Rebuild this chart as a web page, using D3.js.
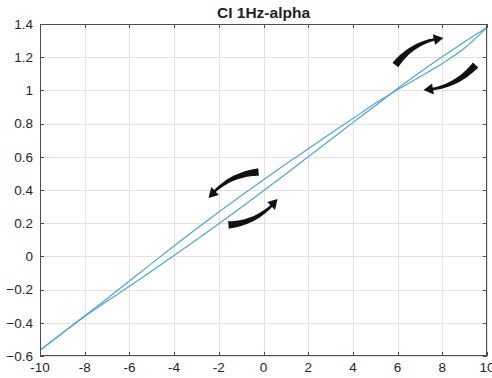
<!DOCTYPE html>
<html>
<head>
<meta charset="utf-8">
<script src="https://cdn.jsdelivr.net/npm/d3@7"></script>
<style>
  body { margin: 0; background: #fff; }
  text { font-family: "Liberation Sans", Arial, sans-serif; }
</style>
</head>
<body>
<div id="chart"></div>
<script>
// input values (x) and the two branches of the loop
var xs      = [-10, -9, -8, -7, -6, -5, -4, -3, -2, -1, 0, 1, 2, 3, 4, 5, 6, 7, 8, 9, 10];
var rising  = [-0.565, -0.463, -0.362, -0.27, -0.18, -0.088, 0.005, 0.1, 0.197, 0.295, 0.395, 0.497, 0.6, 0.703, 0.806, 0.908, 1.012, 1.11, 1.203, 1.293, 1.38];
var falling = [-0.565, -0.462, -0.358, -0.255, -0.148, -0.042, 0.063, 0.167, 0.268, 0.366, 0.462, 0.556, 0.648, 0.74, 0.83, 0.922, 1.004, 1.082, 1.162, 1.255, 1.38];

var xTicks = [-10, -8, -6, -4, -2, 0, 2, 4, 6, 8, 10];
var yTicks = [-0.6, -0.4, -0.2, 0, 0.2, 0.4, 0.6, 0.8, 1, 1.2, 1.4];

// direction arrows (tail -> head, in data units)
var arrowFrom = [[-0.22, 0.508], [-1.57, 0.189], [5.9, 1.153], [9.49, 1.153]];
var arrowTo   = [[-2.46, 0.352], [0.63, 0.346], [8.05, 1.316], [7.16, 1.002]];
var arrowBow  = [12, 12, -12, -12];

var title = "CI 1Hz-alpha";

var width = 492, height = 378;
var margin = { top: 24, right: 5, bottom: 22, left: 40 };

var svg = d3.select("#chart").append("svg")
  .attr("width", width)
  .attr("height", height);

var x = d3.scaleLinear().domain([-10, 10]).range([margin.left, width - margin.right]);
var y = d3.scaleLinear().domain([-0.6, 1.4]).range([height - margin.bottom, margin.top]);

var x0 = x.range()[0], x1 = x.range()[1];
var y0 = y.range()[0], y1 = y.range()[1];

// grid
var grid = svg.append("g").attr("stroke", "#e1e1e1").attr("stroke-width", 1);
grid.selectAll(".vx").data(xTicks).enter().append("line")
  .attr("x1", d => Math.round(x(d)) + 0.5).attr("x2", d => Math.round(x(d)) + 0.5)
  .attr("y1", y1).attr("y2", y0);
grid.selectAll(".hy").data(yTicks).enter().append("line")
  .attr("y1", d => Math.round(y(d)) + 0.5).attr("y2", d => Math.round(y(d)) + 0.5)
  .attr("x1", x0).attr("x2", x1);

// lines
var line = d3.line()
  .x(function(d) { return x(d[0]); })
  .y(function(d) { return y(d[1]); })
  .curve(d3.curveMonotoneX);

[rising, falling].forEach(function(s) {
  svg.append("path")
    .datum(xs.map(function(v, i) { return [v, s[i]]; }))
    .attr("fill", "none")
    .attr("stroke", "#55a3cf")
    .attr("stroke-width", 1.2)
    .attr("d", line);
});

// box + inward ticks
var axc = "#4d4d4d";
svg.append("rect")
  .attr("x", x0 + 0.5).attr("y", y1 + 0.5)
  .attr("width", x1 - x0 - 1).attr("height", y0 - y1 - 1)
  .attr("fill", "none").attr("stroke", axc).attr("stroke-width", 1);

var tk = svg.append("g").attr("stroke", axc).attr("stroke-width", 1);
xTicks.forEach(function(d) {
  var px = Math.round(x(d)) + 0.5;
  tk.append("line").attr("x1", px).attr("x2", px).attr("y1", y0).attr("y2", y0 - 4);
  tk.append("line").attr("x1", px).attr("x2", px).attr("y1", y1).attr("y2", y1 + 4);
});
yTicks.forEach(function(d) {
  var py = Math.round(y(d)) + 0.5;
  tk.append("line").attr("y1", py).attr("y2", py).attr("x1", x0).attr("x2", x0 + 4);
  tk.append("line").attr("y1", py).attr("y2", py).attr("x1", x1).attr("x2", x1 - 4);
});

// tick labels
svg.append("g").selectAll("text").data(xTicks).enter().append("text")
  .attr("x", d => x(d)).attr("y", y0 + 16)
  .attr("text-anchor", "middle")
  .attr("font-size", 13.5).attr("fill", "#262626")
  .text(d => d);

svg.append("g").selectAll("text").data(yTicks).enter().append("text")
  .attr("x", x0 - 7).attr("y", d => y(d)).attr("dy", "0.35em")
  .attr("text-anchor", "end")
  .attr("font-size", 13.5).attr("fill", "#262626")
  .text(d => d3.format("")(+d.toFixed(1)));

// title
svg.append("text")
  .attr("x", x(0)).attr("y", 18)
  .attr("text-anchor", "middle")
  .attr("font-size", 15.5).attr("font-weight", "bold").attr("fill", "#222")
  .text(title);

// curved tapered arrows
function arrowPath(from, to, bow) {
  var T = [x(from[0]), y(from[1])], H = [x(to[0]), y(to[1])];
  var dx = H[0] - T[0], dy = H[1] - T[1], len = Math.hypot(dx, dy);
  var C = [(T[0] + H[0]) / 2 - dy / len * bow, (T[1] + H[1]) / 2 + dx / len * bow];
  function q(t) {
    var u = 1 - t;
    return [u * u * T[0] + 2 * u * t * C[0] + t * t * H[0],
            u * u * T[1] + 2 * u * t * C[1] + t * t * H[1]];
  }
  function nrm(t) {
    var u = 1 - t;
    var tx = 2 * u * (C[0] - T[0]) + 2 * t * (H[0] - C[0]);
    var ty = 2 * u * (C[1] - T[1]) + 2 * t * (H[1] - C[1]);
    var l = Math.hypot(tx, ty);
    return [-ty / l, tx / l];
  }
  var headLen = 9, tb = 1 - headLen / len;
  var left = [], right = [], n = 24;
  for (var i = 0; i <= n; i++) {
    var t = tb * i / n, p = q(t), nv = nrm(t);
    var w = 7.5 + (2.6 - 7.5) * Math.pow(i / n, 0.8);
    left.push([p[0] + nv[0] * w / 2, p[1] + nv[1] * w / 2]);
    right.push([p[0] - nv[0] * w / 2, p[1] - nv[1] * w / 2]);
  }
  var B = q(tb), nb = nrm(tb), hw = 5.5;
  var pts = left.concat([[B[0] + nb[0] * hw, B[1] + nb[1] * hw], H, [B[0] - nb[0] * hw, B[1] - nb[1] * hw]], right.reverse());
  return "M" + pts.map(p => p[0].toFixed(2) + "," + p[1].toFixed(2)).join("L") + "Z";
}

svg.append("g").selectAll("path").data(arrowFrom).enter().append("path")
  .attr("fill", "#111")
  .attr("d", function(d, i) { return arrowPath(arrowFrom[i], arrowTo[i], arrowBow[i]); });
</script>
</body>
</html>
